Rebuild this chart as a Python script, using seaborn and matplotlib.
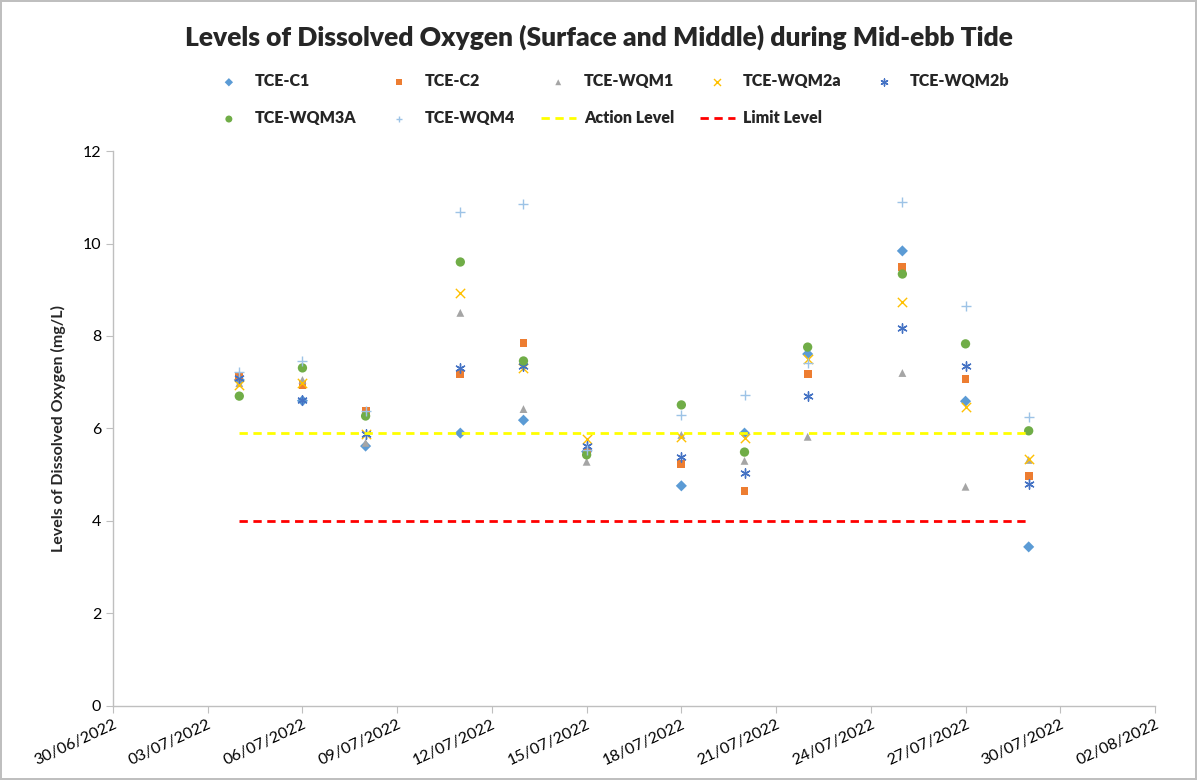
import pandas as pd
import numpy as np
import matplotlib
matplotlib.use("Agg")
import matplotlib.pyplot as plt
import matplotlib.dates as mdates
import seaborn as sns

# sampling dates (mid-ebb tide)
dates = ["2022-07-04", "2022-07-06", "2022-07-08", "2022-07-11", "2022-07-13", "2022-07-15",
         "2022-07-18", "2022-07-20", "2022-07-22", "2022-07-25", "2022-07-27", "2022-07-29"]

# dissolved oxygen, mg/L (surface and middle average)
tce_c1 = [7.05, 6.60, 5.62, 5.90, 6.18, 5.50, 4.76, 5.90, 7.61, 9.84, 6.59, 3.44]
tce_c2 = [7.11, 6.94, 6.38, 7.18, 7.85, 5.50, 5.23, 4.65, 7.18, 9.49, 7.07, 4.97]
tce_wqm1 = [6.98, 7.05, 5.69, 8.50, 6.42, 5.28, 5.86, 5.30, 5.82, 7.20, 4.74, 5.32]
tce_wqm2a = [6.94, 6.99, 5.88, 8.93, 7.31, 5.77, 5.82, 5.80, 7.50, 8.73, 6.47, 5.34]
tce_wqm2b = [7.10, 6.62, 5.88, 7.30, 7.35, 5.62, 5.39, 5.03, 6.70, 8.18, 7.35, 4.80]
tce_wqm3a = [6.70, 7.31, 6.27, 9.60, 7.46, 5.43, 6.51, 5.49, 7.76, 9.34, 7.83, 5.95]
tce_wqm4 = [7.22, 7.46, 6.38, 10.69, 10.85, 5.53, 6.30, 6.72, 7.41, 10.90, 8.65, 6.25]

action_level = 5.9
limit_level = 4.0

series = [
    ("TCE-C1", tce_c1, "D", "#5B9BD5"),
    ("TCE-C2", tce_c2, "s", "#ED7D31"),
    ("TCE-WQM1", tce_wqm1, "^", "#A5A5A5"),
    ("TCE-WQM2a", tce_wqm2a, "x", "#FFC000"),
    ("TCE-WQM2b", tce_wqm2b, (6, 2, 0), "#4472C4"),
    ("TCE-WQM3A", tce_wqm3a, "o", "#70AD47"),
    ("TCE-WQM4", tce_wqm4, "+", "#9DC3E6"),
]

sns.set_style("white")
plt.rcParams["font.family"] = ["Lato", "DejaVu Sans"]

x = pd.to_datetime(dates)

fig = plt.figure(figsize=(11.97, 7.8), dpi=100)
fig.patch.set_edgecolor("#BFBFBF")
fig.patch.set_linewidth(1.5)
ax = fig.add_axes([0.0944, 0.0949, 0.8705, 0.7115])

for name, vals, mk, col in series:
    filled = mk not in ("x", "+", (6, 2, 0))
    if filled:
        sns.scatterplot(x=x, y=vals, marker=mk, color=col, s=45 if mk == "o" else 32,
                        edgecolor="none", label=name, ax=ax)
    else:
        sns.scatterplot(x=x, y=vals, marker=mk, color=col, s=45,
                        linewidth=1.0, label=name, ax=ax)

ends = pd.to_datetime([dates[0], dates[-1]])
sns.lineplot(x=ends, y=[action_level] * 2, color="#FFFF00", linestyle=(0, (3, 2)),
             linewidth=2, label="Action Level", ax=ax)
sns.lineplot(x=ends, y=[limit_level] * 2, color="#FF0000", linestyle=(0, (3, 2)),
             linewidth=2, label="Limit Level", ax=ax)

ax.set_xlim(pd.Timestamp("2022-06-30"), pd.Timestamp("2022-08-02"))
ax.set_ylim(0, 12)
ax.set_yticks(np.arange(0, 13, 2))
ax.set_xticks(pd.date_range("2022-06-30", "2022-08-02", freq="3D"))
ax.xaxis.set_major_formatter(mdates.DateFormatter("%d/%m/%Y"))
plt.setp(ax.get_xticklabels(), rotation=25, ha="right", rotation_mode="anchor")
ax.tick_params(axis="both", which="major", labelsize=11.5, length=5, color="#BFBFBF",
               direction="out", bottom=True, left=True)
ax.tick_params(axis="both", labelcolor="#000000")

for side in ("top", "right"):
    ax.spines[side].set_visible(False)
for side in ("left", "bottom"):
    ax.spines[side].set_color("#BFBFBF")
    ax.spines[side].set_linewidth(1)

ax.set_xlabel("")
ax.set_ylabel("Levels of Dissolved Oxygen (mg/L)", fontsize=11.5, fontweight="bold", labelpad=12)

fig.text(0.5, 0.952, "Levels of Dissolved Oxygen (Surface and Middle) during Mid-ebb Tide",
         ha="center", va="center", fontsize=19, fontweight="heavy")

handles, labels = ax.get_legend_handles_labels()
ax.get_legend().remove()
order = [0, 5, 1, 6, 2, 7, 3, 8, 4]
fig.legend([handles[i] for i in order], [labels[i] for i in order],
           ncol=5, loc="center", bbox_to_anchor=(0.51, 0.872), frameon=False,
           prop={"weight": "heavy", "size": 11.5}, handlelength=2.2, columnspacing=1.6,
           labelspacing=1.3, handletextpad=0.5, markerscale=0.75)

fig.savefig("out.png", dpi=100)
